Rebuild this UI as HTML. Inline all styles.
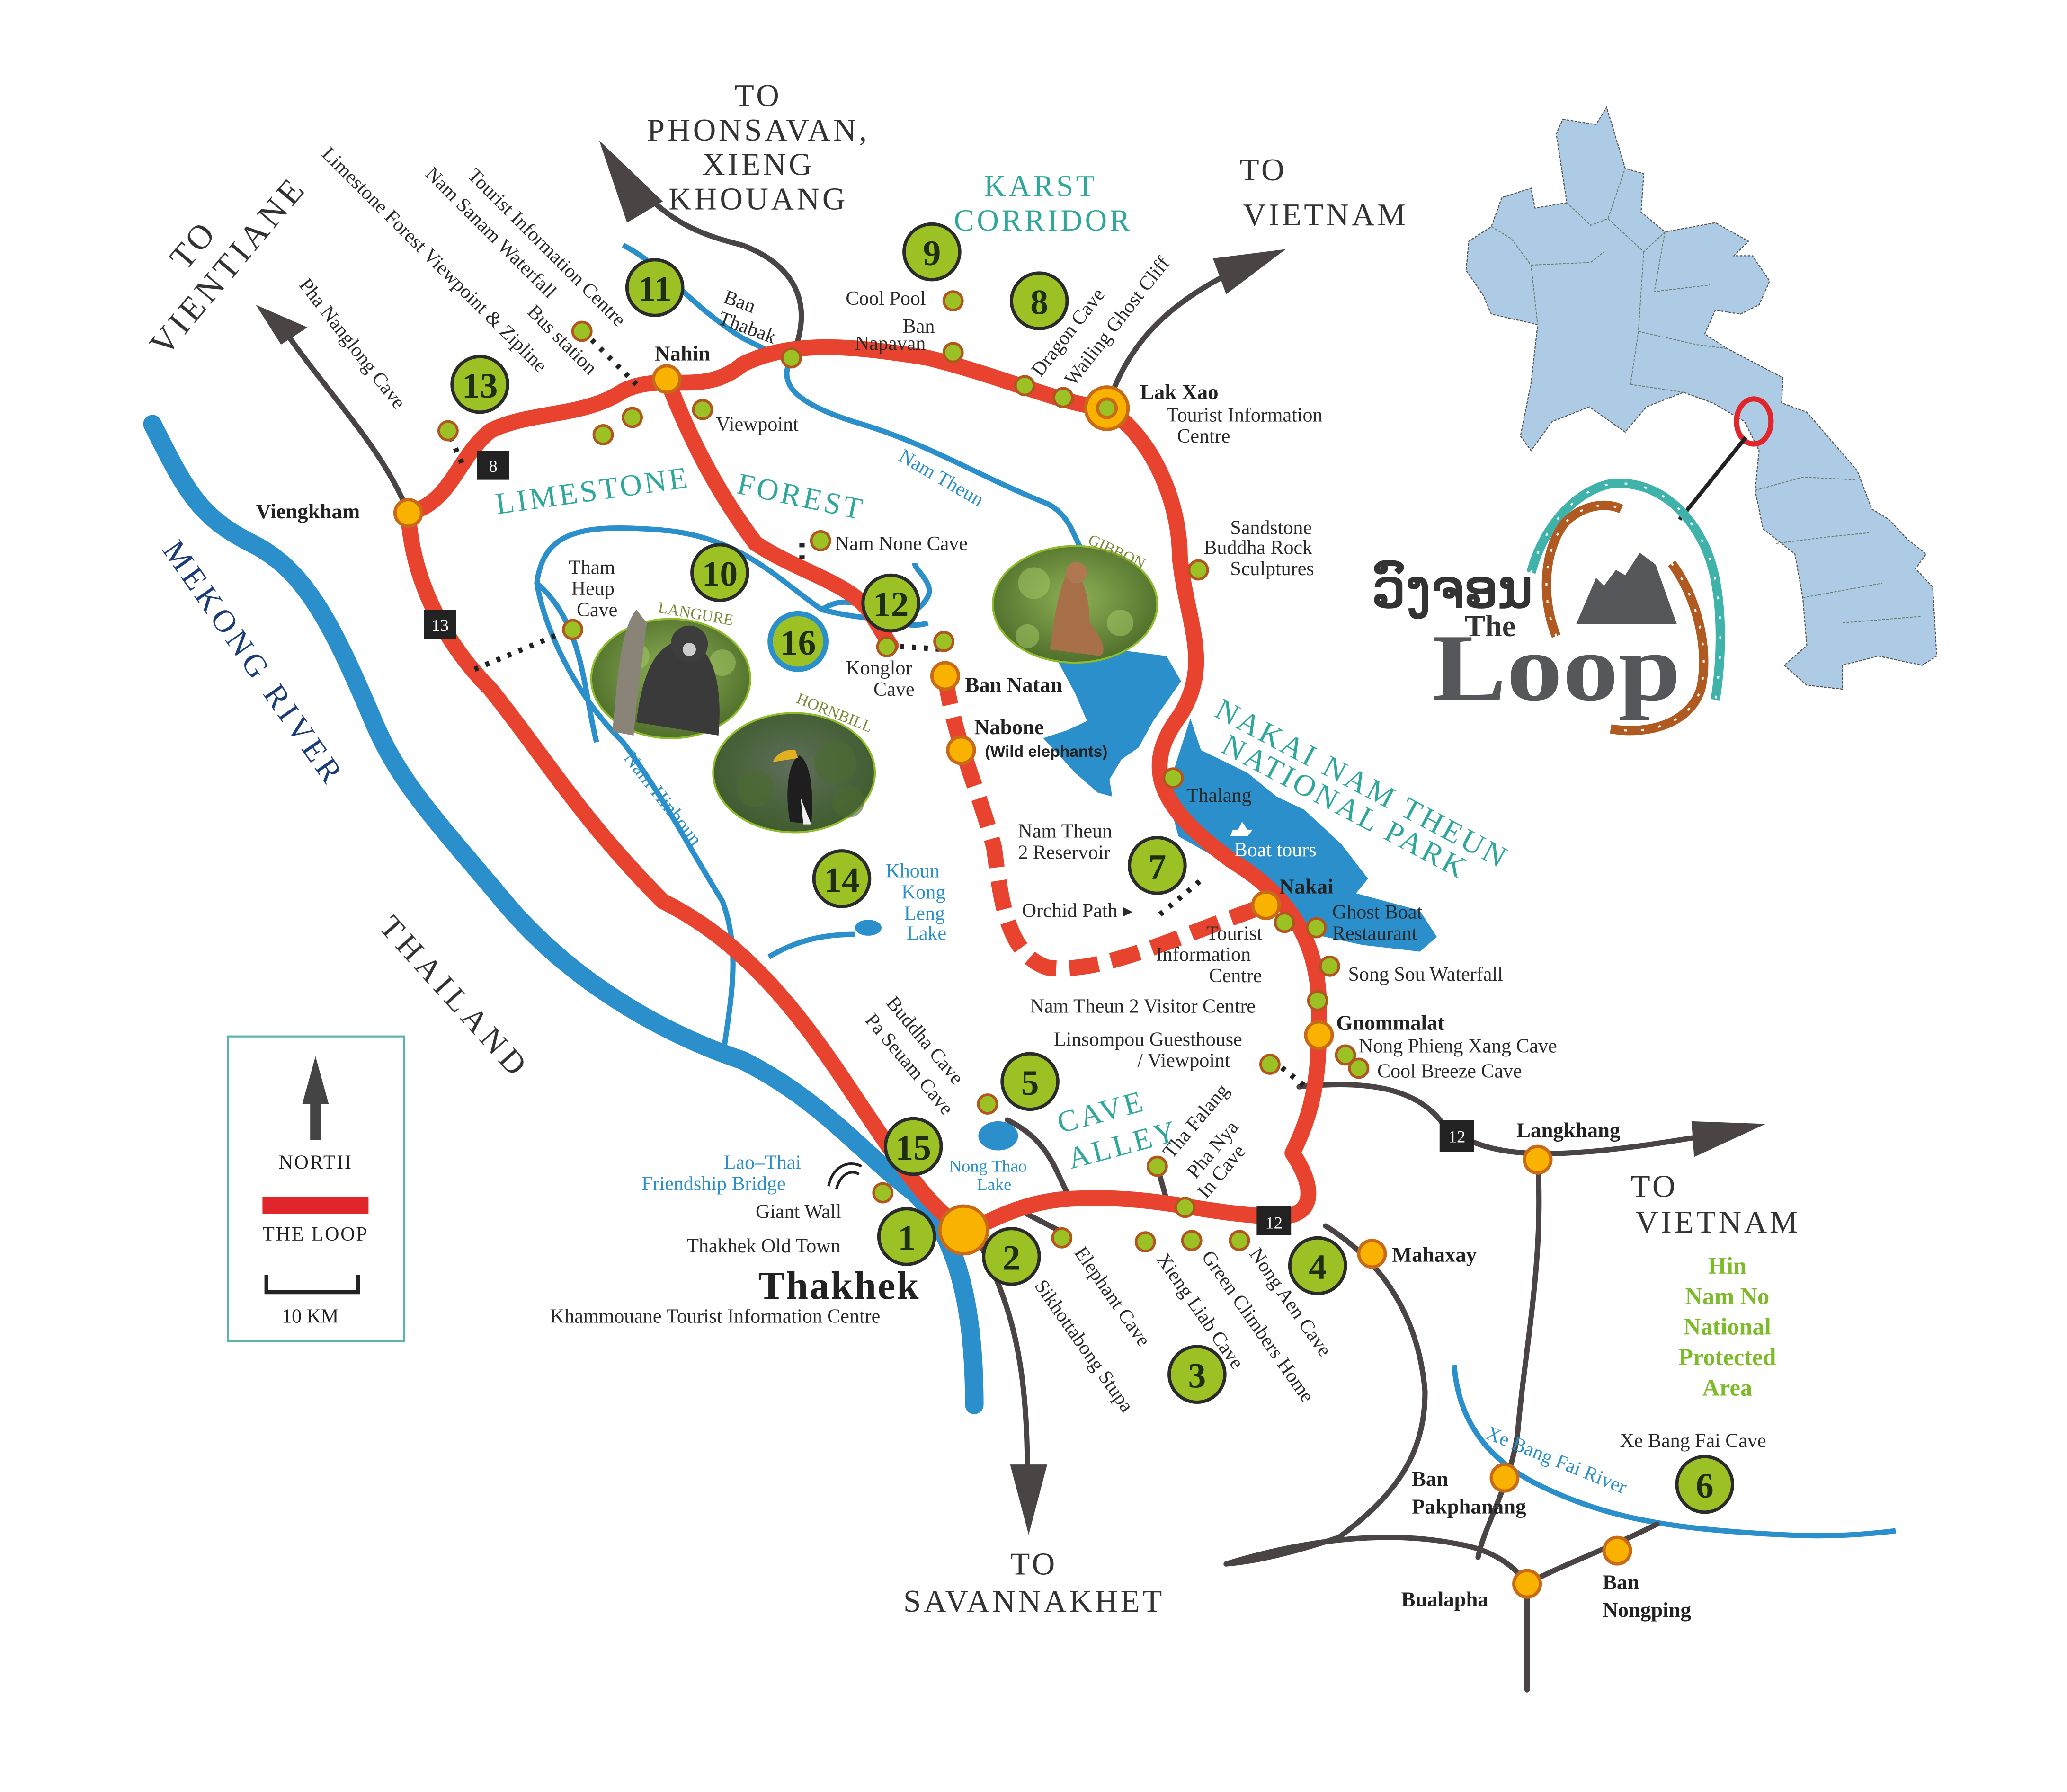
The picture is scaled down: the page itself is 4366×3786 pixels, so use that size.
<!DOCTYPE html>
<html><head><meta charset="utf-8"><style>
html,body{margin:0;padding:0;background:#fff;}
svg{display:block;}
text{font-family:"Liberation Serif",serif;}
.s{font-family:"Liberation Sans",sans-serif;}
.lbl{font-size:15px;fill:#2a2a2a;}
.b{font-weight:bold;}
.teal{fill:#2fa89b;}
.blue{fill:#2a8fcb;}
.num{font-family:"Liberation Sans",sans-serif;font-weight:bold;font-size:27px;fill:#1f2d10;text-anchor:middle;}
</style></head><body>
<svg width="4366" height="3786" viewBox="0 0 1559.3 1352.1" preserveAspectRatio="none" xmlns="http://www.w3.org/2000/svg">
<rect width="1559.3" height="1352.1" fill="#fff"/>
<defs>
<radialGradient id="ph" cx="50%" cy="45%" r="60%"><stop offset="0" stop-color="#8fb055"/><stop offset="1" stop-color="#4a6a28"/></radialGradient>
<radialGradient id="ph2" cx="50%" cy="45%" r="60%"><stop offset="0" stop-color="#5f6e5a"/><stop offset="1" stop-color="#3d5a2a"/></radialGradient>
</defs>

<!-- Laos map -->
<path d="M1179,90 L1204,94 L1212,81 L1226,127 L1240,131 L1238,160 L1256,175 L1294,168 L1319,182 L1308,193 L1322,193 L1335,212 L1327,230 L1313,237 L1294,234 L1286,252 L1303,263 L1345,285 L1344,304 L1363,311 L1401,355 L1412,384 L1425,392 L1439,407 L1453,418 L1445,429 L1458,443 L1461,495 L1450,502 L1417,495 L1390,502 L1390,520 L1363,517 L1346,502 L1363,487 L1360,451 L1354,418 L1330,399 L1324,370 L1327,340 L1316,318 L1292,304 L1270,296 L1242,307 L1226,326 L1199,307 L1171,318 L1155,340 L1147,329 L1155,289 L1160,245 L1125,237 L1119,223 L1106,204 L1108,182 L1125,171 L1133,149 L1155,142 L1158,157 L1182,153 L1174,101 Z" fill="#aecbe6" stroke="#555" stroke-width="0.8" stroke-dasharray="2 1"/>
<path d="M1182,153 L1200,170 L1213,165 L1226,127 M1213,165 L1240,190 L1256,175 M1125,171 L1140,180 L1155,200 L1160,245 M1155,200 L1200,198 L1210,190 M1240,190 L1236,250 L1230,290 M1256,175 L1248,220 L1290,215 M1236,250 L1280,260 L1303,263 M1230,290 L1270,296 M1324,370 L1360,360 L1400,362 M1340,410 L1380,405 L1410,402 M1360,451 L1420,440 M1390,470 L1450,465" fill="none" stroke="#6b7d6a" stroke-width="0.7" stroke-dasharray="2 1"/>
<ellipse cx="1323" cy="318" rx="13" ry="17" fill="none" stroke="#e0262b" stroke-width="4"/>
<line x1="1317" y1="330" x2="1267" y2="392" stroke="#222" stroke-width="3"/>

<!-- Logo -->
<path d="M1155,432 C1165,395 1190,370 1215,365 C1245,362 1270,380 1285,410 C1300,440 1300,490 1294,528" fill="none" stroke="#3fb3aa" stroke-width="7"/>
<path d="M1155,432 C1165,395 1190,370 1215,365 C1245,362 1270,380 1285,410 C1300,440 1300,490 1294,528" fill="none" stroke="#fff" stroke-width="1.5" stroke-dasharray="2 13"/>
<path d="M1174,480 C1162,450 1165,415 1180,395 C1192,382 1210,378 1223,384" fill="none" stroke="#b05a22" stroke-width="7"/>
<path d="M1261,425 C1280,450 1290,490 1283,520 C1275,545 1245,555 1215,550" fill="none" stroke="#b05a22" stroke-width="7"/>
<path d="M1174,480 C1162,450 1165,415 1180,395 C1192,382 1210,378 1223,384 M1261,425 C1280,450 1290,490 1283,520 C1275,545 1245,555 1215,550" fill="none" stroke="#fff" stroke-width="1.5" stroke-dasharray="2 11"/>
<path d="M1189,471 L1204,436 L1210,442 L1219,430 L1226,434 L1237,417 L1249,426 L1265,471 Z" fill="#55575a"/>
<text x="1035" y="458" font-size="40" fill="#333" class="b" font-family="Liberation Sans,sans-serif">ວົງຈອນ</text>
<text x="1105" y="480" font-size="23" fill="#333" class="b">The</text>
<text x="1080" y="528" font-size="72" fill="#55575a" class="b" textLength="188" lengthAdjust="spacingAndGlyphs">Loop</text>

<!-- Mekong -->
<path d="M115,320 C140,370 150,390 190,410 C230,430 250,470 280,540 C300,590 330,620 380,680 C430,740 500,780 560,800 C620,830 650,870 690,900 C720,930 735,980 735,1060" fill="none" stroke="#2a8fcb" stroke-width="14" stroke-linecap="round"/>

<!-- thin rivers -->
<g fill="none" stroke="#2a8fcb" stroke-width="4">
<path d="M470,185 C500,200 520,230 560,255 C580,265 590,270 598,268"/>
<path d="M598,268 C585,290 600,305 650,320 C700,335 740,360 790,380 C810,390 810,410 820,420"/>
<path d="M545,800 C550,760 560,720 545,680 C520,640 500,600 470,560 C430,520 410,470 405,440 C410,400 440,395 500,400 C560,405 590,440 620,460 C660,470 690,470 700,450 C705,440 690,430 690,425"/>
<path d="M405,440 C440,470 440,520 450,560"/>
<path d="M620,460 C650,440 670,480 700,470"/>
<path d="M580,722 C600,710 620,705 645,705"/>
<path d="M1097,1030 C1100,1070 1120,1100 1160,1120 C1200,1140 1240,1150 1300,1155 C1360,1160 1390,1160 1430,1155"/>
</g>
<!-- reservoir -->
<path d="M798,499 L833,489 L880,495 L891,514 L870,544 L859,564 L846,573 L837,588 L839,601 L828,598 L811,583 L787,557 L805,551 L820,544 L811,523 Z" fill="#2a8fcb"/>
<path d="M898,542 L906,566 L941,583 L963,601 L984,611 L1012,637 L1032,663 L1023,674 L1071,687 L1084,707 L1071,718 L1028,713 L991,705 L963,676 L919,648 L889,631 L880,598 Z" fill="#2a8fcb"/>
<ellipse cx="753" cy="857" rx="15" ry="11" fill="#2a8fcb"/>
<ellipse cx="655" cy="700" rx="10" ry="6" fill="#2a8fcb"/>

<!-- gray roads -->
<g fill="none" stroke="#4a4444" stroke-width="4" stroke-linecap="round">
<path d="M308,387 C290,340 250,300 215,250"/>
<path d="M597,270 C615,230 600,200 560,185 C520,175 505,165 480,140"/>
<path d="M835,308 C850,260 880,230 930,205"/>
<path d="M980,820 C1030,815 1070,820 1090,850 C1120,870 1150,880 1280,858"/>
<path d="M740,940 C760,980 775,1020 775,1110"/>
<path d="M1000,925 C1040,950 1070,990 1075,1050 C1075,1100 1050,1130 1010,1160 C980,1170 950,1178 925,1180"/>
<path d="M1160,875 C1165,950 1150,1020 1145,1080 C1140,1120 1120,1150 1115,1175"/>
<path d="M925,1180 C990,1160 1050,1155 1100,1165 C1130,1170 1145,1185 1152,1195 C1180,1180 1210,1170 1250,1150"/>
<path d="M1152,1195 L1152,1275"/>
<path d="M760,845 C790,860 795,880 805,900"/>
<path d="M767,912 L798,928"/>
<path d="M873,880 L880,905"/>
</g>
<g fill="#4a4444">
<path d="M193,230 L232,247 L212,260 Z"/>
<path d="M452,106 L500,152 L473,168 Z"/>
<path d="M970,188 L925,222 L915,195 Z"/>
<path d="M1332,848 L1278,873 L1276,846 Z"/>
<path d="M762,1105 L790,1105 L776,1158 Z"/>
</g>

<!-- red loop -->
<g fill="none" stroke="#e8432e" stroke-width="12" stroke-linecap="round" stroke-linejoin="round">
<path d="M308,387 C340,380 345,345 370,325 C400,310 440,315 470,295 C500,280 530,300 560,275 C600,255 650,262 700,270 C760,285 800,305 835,308 C870,330 890,380 890,420 C895,470 915,500 890,540 C860,580 875,610 930,650 C980,680 995,720 995,760 C995,800 995,830 975,870 C995,900 990,920 960,918 C900,915 870,900 800,905 C760,910 745,925 727,928 C700,910 680,880 640,820 C600,760 560,710 500,680 C440,620 410,570 370,520 C330,480 310,430 308,387 Z"/>
<path d="M503,286 C520,330 540,370 570,410 C600,430 640,440 655,460 C665,475 670,485 672,487"/>
</g>
<path d="M713,510 C720,560 740,600 750,640 C755,680 760,720 790,730 C830,735 880,710 955,683" fill="none" stroke="#e8432e" stroke-width="12" stroke-dasharray="22 10"/>
<g fill="none" stroke="#222" stroke-width="4" stroke-dasharray="3 6">
<path d="M358,505 L430,475"/>
<path d="M440,250 L480,290"/>
<path d="M340,330 L350,353"/>
<path d="M875,690 L905,665"/>
<path d="M960,800 L985,820"/>
<path d="M605,410 L605,425"/>
<path d="M670,487 L712,490"/>
</g>

<!-- photo circles -->
<ellipse cx="811" cy="456" rx="62" ry="44" fill="url(#ph)" stroke="#8dbb2a" stroke-width="1.5"/>
<ellipse cx="506" cy="512" rx="60" ry="45" fill="url(#ph)" stroke="#8dbb2a" stroke-width="1.5"/>
<ellipse cx="599" cy="583" rx="61" ry="45" fill="url(#ph2)" stroke="#8dbb2a" stroke-width="1.5"/>
<g opacity="0.5" fill="#a8cc66"><circle cx="780" cy="440" r="12"/><circle cx="845" cy="470" r="10"/><circle cx="775" cy="480" r="9"/><circle cx="480" cy="495" r="10"/><circle cx="545" cy="500" r="10"/></g>
<g opacity="0.6" fill="#4d6a30"><circle cx="570" cy="595" r="14"/><circle cx="630" cy="575" r="16"/><circle cx="640" cy="605" r="12"/></g>
<path d="M792,490 C796,460 800,440 806,432 C816,428 822,450 822,470 C830,480 836,490 830,495 Z" fill="#a87048"/>
<circle cx="812" cy="432" r="8" fill="#b07850"/>
<path d="M465,520 C468,490 472,470 480,460 L488,470 C484,500 480,530 478,555 L462,552 Z" fill="#8a8478"/>
<path d="M480,545 C485,505 495,485 518,482 C540,490 545,520 542,555 Z" fill="#3a3a3a"/>
<circle cx="520" cy="486" r="14" fill="#3d3d3d"/><circle cx="520" cy="490" r="5" fill="#ccc"/>
<path d="M596,620 C592,600 594,575 603,570 C612,575 614,600 612,622 Z" fill="#1e1e1e"/>
<path d="M600,566 C590,565 585,570 583,575 L602,572 Z" fill="#e0b020"/>
<path d="M604,602 L612,622 L606,622 Z" fill="#eee"/>
<text x="820" y="410" font-size="12" fill="#7a8a3a" transform="rotate(25 820 410)">GIBBON</text>
<text x="496" y="462" font-size="12" fill="#7a8a3a" transform="rotate(10 496 462)">LANGURE</text>
<text x="600" y="530" font-size="12" fill="#7a8a3a" transform="rotate(22 600 530)">HORNBILL</text>

<!-- POI small dots -->
<g fill="#9bc124" stroke="#b0561e" stroke-width="2">
<circle cx="338" cy="325" r="7"/><circle cx="439" cy="250" r="7"/><circle cx="477" cy="315" r="7"/><circle cx="455" cy="328" r="7"/>
<circle cx="530" cy="309" r="7"/><circle cx="597" cy="270" r="7"/><circle cx="719" cy="227" r="7"/><circle cx="719" cy="266" r="7"/>
<circle cx="773" cy="291" r="7"/><circle cx="802" cy="300" r="7"/><circle cx="904" cy="430" r="7"/><circle cx="619" cy="408" r="7"/>
<circle cx="432" cy="475" r="7"/><circle cx="669" cy="488" r="7"/><circle cx="712" cy="484" r="7"/><circle cx="885" cy="587" r="7"/>
<circle cx="969" cy="696" r="7"/><circle cx="993" cy="700" r="7"/><circle cx="1003" cy="729" r="7"/><circle cx="994" cy="755" r="7"/>
<circle cx="958" cy="803" r="7"/><circle cx="1015" cy="796" r="7"/><circle cx="1025" cy="806" r="7"/><circle cx="745" cy="833" r="7"/>
<circle cx="873" cy="880" r="7"/><circle cx="894" cy="911" r="7"/><circle cx="666" cy="900" r="7"/><circle cx="801" cy="934" r="7"/>
<circle cx="864" cy="937" r="7"/><circle cx="899" cy="936" r="7"/><circle cx="935" cy="936" r="7"/>
</g>
<g fill="#f9b200" stroke="#c96a16" stroke-width="2.5">
<circle cx="308" cy="387" r="10"/><circle cx="503" cy="286" r="10"/><circle cx="835" cy="308" r="16"/><circle cx="835" cy="308" r="7" fill="#9bc124"/>
<circle cx="713" cy="510" r="10"/><circle cx="725" cy="566" r="10"/><circle cx="955" cy="683" r="10"/><circle cx="995" cy="781" r="10"/>
<circle cx="727" cy="928" r="18"/><circle cx="1035" cy="946" r="10"/><circle cx="1160" cy="875" r="10"/><circle cx="1135" cy="1115" r="10"/>
<circle cx="1152" cy="1195" r="10"/><circle cx="1220" cy="1170" r="10"/>
</g>

<g fill="#222"><rect x="360" y="340" width="24" height="22"/><rect x="320" y="460" width="24" height="22"/><rect x="948" y="910" width="26" height="22"/><rect x="1086" y="845" width="26" height="24"/></g>
<g class="s" font-size="13" fill="#fff" text-anchor="middle"><text x="372" y="356">8</text><text x="332" y="476">13</text><text x="961" y="927">12</text><text x="1099" y="862">12</text></g>

<g fill="#9bc124" stroke="#2b2b2b" stroke-width="2.5">
<circle cx="684" cy="933" r="21"/><circle cx="763" cy="948" r="21"/><circle cx="903" cy="1037" r="21"/><circle cx="994" cy="955" r="21"/>
<circle cx="777" cy="816" r="21"/><circle cx="1286" cy="1120" r="21"/><circle cx="873" cy="653" r="21"/><circle cx="784" cy="227" r="21"/>
<circle cx="703" cy="190" r="21"/><circle cx="543" cy="432" r="21"/><circle cx="494" cy="217" r="21"/><circle cx="672" cy="455" r="21"/>
<circle cx="362" cy="290" r="21"/><circle cx="635" cy="663" r="21"/><circle cx="689" cy="865" r="21"/>
<circle cx="602" cy="484" r="21" stroke="#2a8fcb" stroke-width="4"/>
</g>
<g class="num">
<text x="684" y="943">1</text><text x="763" y="958">2</text><text x="903" y="1047">3</text><text x="994" y="965">4</text>
<text x="777" y="826">5</text><text x="1286" y="1130">6</text><text x="873" y="663">7</text><text x="784" y="237">8</text>
<text x="703" y="200">9</text><text x="543" y="442">10</text><text x="494" y="227">11</text><text x="672" y="465">12</text>
<text x="362" y="300">13</text><text x="635" y="673">14</text><text x="689" y="875">15</text><text x="602" y="494">16</text>
</g>

<g font-size="24" fill="#333" text-anchor="middle" letter-spacing="2">
<text x="572" y="80">TO</text><text x="572" y="106">PHONSAVAN,</text><text x="572" y="132">XIENG</text><text x="572" y="158">KHOUANG</text>
<text x="953" y="136">TO</text><text x="1000" y="170">VIETNAM</text>
<text x="1248" y="903">TO</text><text x="1296" y="930">VIETNAM</text>
<text x="780" y="1188">TO</text><text x="780" y="1216">SAVANNAKHET</text>
</g>
<text x="140" y="205" font-size="26" fill="#333" letter-spacing="2" transform="rotate(-50 140 205)">TO</text>
<text x="125" y="270" font-size="26" fill="#333" letter-spacing="3" transform="rotate(-50 125 270)">VIENTIANE</text>
<text x="122" y="415" font-size="24" fill="#1c3d7a" letter-spacing="3" transform="rotate(55 122 415)">MEKONG RIVER</text>
<text x="285" y="700" font-size="24" fill="#333" letter-spacing="4" transform="rotate(48 285 700)">THAILAND</text>
<g font-size="23" class="teal" letter-spacing="2" text-anchor="middle"><text x="785" y="148">KARST</text><text x="787" y="174">CORRIDOR</text></g>
<text x="375" y="388" font-size="23" class="teal" letter-spacing="2" transform="rotate(-8 375 388)">LIMESTONE</text>
<text x="555" y="372" font-size="23" class="teal" letter-spacing="2" transform="rotate(12 555 372)">FOREST</text>
<text x="915" y="540" font-size="23" class="teal" letter-spacing="2" transform="rotate(28 915 540)">NAKAI NAM THEUN</text>
<text x="920" y="567" font-size="23" class="teal" letter-spacing="2" transform="rotate(28 920 567)">NATIONAL PARK</text>
<text x="800" y="855" font-size="23" class="teal" letter-spacing="2" transform="rotate(-15 800 855)">CAVE</text>
<text x="808" y="882" font-size="23" class="teal" letter-spacing="2" transform="rotate(-15 808 882)">ALLEY</text>
<g class="s b" font-size="18" fill="#7dbb2b" text-anchor="middle"><text x="1303" y="961">Hin</text><text x="1303" y="984">Nam No</text><text x="1303" y="1007">National</text><text x="1303" y="1030">Protected</text><text x="1303" y="1053">Area</text></g>

<g class="s b" font-size="16" fill="#222">
<text x="193" y="391">Viengkham</text><text x="494" y="272">Nahin</text><text x="860" y="301">Lak Xao</text><text x="728" y="522">Ban Natan</text>
<text x="735" y="554">Nabone</text><text x="965" y="674">Nakai</text><text x="1008" y="777">Gnommalat</text><text x="1144" y="858">Langkhang</text>
<text x="1050" y="952">Mahaxay</text><text x="1065" y="1121">Ban</text><text x="1065" y="1142">Pakphanang</text><text x="1057" y="1212">Bualapha</text>
<text x="1209" y="1199">Ban</text><text x="1209" y="1220">Nongping</text>
</g>
<text x="743" y="571" class="s b" font-size="12" fill="#222">(Wild elephants)</text>
<text x="572" y="980" font-size="30" class="b" fill="#222" letter-spacing="1">Thakhek</text>

<g class="lbl">
<text x="540" y="325">Viewpoint</text><text x="638" y="230">Cool Pool</text><text x="681" y="251">Ban</text><text x="645" y="264">Napavan</text>
<text x="880" y="318">Tourist Information</text><text x="888" y="334">Centre</text>
<text x="928" y="403">Sandstone</text><text x="908" y="418">Buddha Rock</text><text x="928" y="434">Sculptures</text>
<text x="630" y="415">Nam None Cave</text>
<text x="429" y="433">Tham</text><text x="431" y="449">Heup</text><text x="435" y="465">Cave</text>
<text x="638" y="509">Konglor</text><text x="659" y="525">Cave</text>
<text x="895" y="605">Thalang</text>
<text x="768" y="632">Nam Theun</text><text x="768" y="648">2 Reservoir</text>
<text x="771" y="692">Orchid Path ▸</text>
<text x="910" y="709">Tourist</text><text x="872" y="725">Information</text><text x="912" y="741">Centre</text>
<text x="1005" y="693">Ghost Boat</text><text x="1005" y="709">Restaurant</text>
<text x="1017" y="740">Song Sou Waterfall</text>
<text x="777" y="764">Nam Theun 2 Visitor Centre</text>
<text x="795" y="789">Linsompou Guesthouse</text><text x="858" y="805">/ Viewpoint</text>
<text x="1025" y="794">Nong Phieng Xang Cave</text><text x="1039" y="813">Cool Breeze Cave</text>
<text x="570" y="919">Giant Wall</text><text x="518" y="945">Thakhek Old Town</text>
<text x="415" y="998">Khammouane Tourist Information Centre</text>
<text x="1222" y="1092">Xe Bang Fai Cave</text>
<text x="545" y="228" transform="rotate(20 545 228)">Ban</text><text x="541" y="244" transform="rotate(20 541 244)">Thabak</text>
</g>
<path d="M930,626 L945,626 L941,631 L928,631 Z M934,626 L937,620 L941,626" fill="#fff"/>
<g class="blue lbl">
<text x="931" y="646" fill="#fff">Boat tours</text>
<text x="668" y="662">Khoun</text><text x="680" y="678">Kong</text><text x="682" y="694">Leng</text><text x="684" y="709">Lake</text>
<text x="546" y="882">Lao–Thai</text><text x="484" y="898">Friendship Bridge</text>
<text x="716" y="884" font-size="13">Nong Thao</text><text x="737" y="898" font-size="13">Lake</text>
<text x="677" y="347" transform="rotate(30 677 347)">Nam Theun</text>
<text x="470" y="572" transform="rotate(52 470 572)">Nam Hinboun</text>
<text x="1120" y="1085" transform="rotate(22 1120 1085)">Xe  Bang Fai River</text>
</g>
<g class="lbl">
<text x="225" y="215" transform="rotate(52 225 215)">Pha Nanglong Cave</text>
<text x="242" y="117" transform="rotate(45 242 117)">Limestone Forest Viewpoint &amp; Zipline</text>
<text x="320" y="132" transform="rotate(45 320 132)">Nam Sanam Waterfall</text>
<text x="397" y="236" transform="rotate(45 397 236)">Bus station</text>
<text x="352" y="133" transform="rotate(45 352 133)">Tourist Information Centre</text>
<text x="785" y="285" transform="rotate(-52 785 285)">Dragon Cave</text>
<text x="810" y="292" transform="rotate(-52 810 292)">Wailing Ghost Cliff</text>
<text x="668" y="757" transform="rotate(50 668 757)">Buddha Cave</text>
<text x="652" y="770" transform="rotate(50 652 770)">Pa Seuam Cave</text>
<text x="884" y="875" transform="rotate(-50 884 875)">Tha Falang</text>
<text x="902" y="890" transform="rotate(-50 902 890)">Pha Nya</text>
<text x="910" y="905" transform="rotate(-50 910 905)">In Cave</text>
<text x="810" y="945" transform="rotate(55 810 945)">Elephant Cave</text>
<text x="780" y="970" transform="rotate(55 780 970)">Sikhottabong Stupa</text>
<text x="872" y="950" transform="rotate(55 872 950)">Xieng Liab Cave</text>
<text x="906" y="948" transform="rotate(55 906 948)">Green Climbers Home</text>
<text x="942" y="946" transform="rotate(55 942 946)">Nong Aen Cave</text>
</g>
<path d="M625,895 C628,880 640,875 650,880 M631,897 C634,886 642,882 648,886" fill="none" stroke="#222" stroke-width="2"/>

<rect x="172" y="782" width="133" height="230" fill="#fff" stroke="#5bb5ad" stroke-width="1.5"/>
<path d="M238,797 L248,833 L242,833 L242,860 L234,860 L234,833 L228,833 Z" fill="#444"/>
<text x="238" y="882" font-size="15" text-anchor="middle" fill="#222" letter-spacing="1">NORTH</text>
<rect x="198" y="903" width="80" height="13" fill="#e0262b"/>
<text x="238" y="936" font-size="15" text-anchor="middle" fill="#222" letter-spacing="1">THE LOOP</text>
<path d="M201,962 L201,975 L270,975 L270,962" fill="none" stroke="#222" stroke-width="3"/>
<text x="234" y="998" font-size="15" text-anchor="middle" fill="#222">10 KM</text>
</svg>
</body></html>
